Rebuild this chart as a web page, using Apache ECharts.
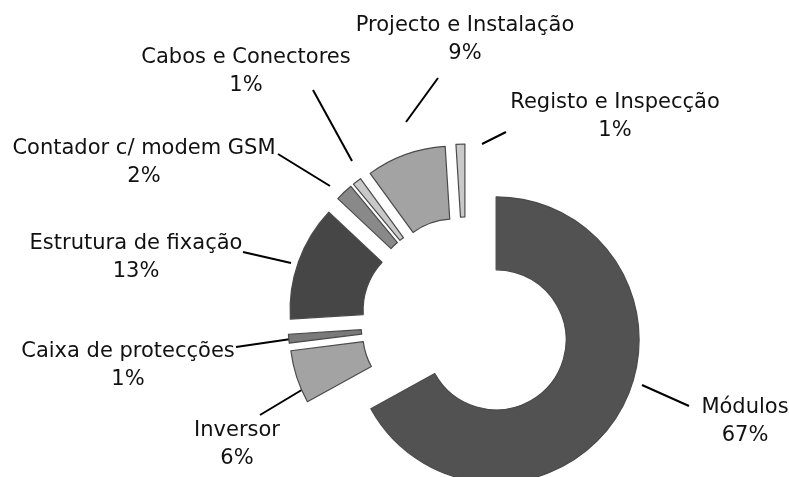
<!DOCTYPE html>
<html>
<head>
<meta charset="utf-8">
<script src="https://cdn.jsdelivr.net/npm/echarts@6/dist/echarts.min.js"></script>
<style>
html,body{margin:0;padding:0;background:#fff;}
#chart{width:789px;height:477px;}
</style>
</head>
<body>
<div id="chart"></div>
<script>
// Data
var categories = ['Módulos', 'Inversor', 'Caixa de protecções', 'Estrutura de fixação', 'Contador c/ modem GSM', 'Cabos e Conectores', 'Projecto e Instalação', 'Registo e Inspecção'];
var shares = [67, 6, 1, 13, 2, 1, 9, 1];

// Styling / layout (not data)
var sliceColors = ['#525252', '#a3a3a3', '#7a7a7a', '#464646', '#898989', '#c9c9c9', '#a3a3a3', '#c9c9c9'];
var labelPos = [[745, 422], [237, 445], [128, 366], [136, 258], [144, 163], [246, 72], [465, 40], [615, 117]];
var leaderLines = [
  [[642, 385], [689, 406]],
  [[305, 388], [260, 415]],
  [[291, 339], [236, 347]],
  [[291, 263], [243, 252]],
  [[330, 186], [278, 154]],
  [[352, 161], [313, 90]],
  [[406, 122], [438, 78]],
  [[482, 144], [506, 132]]
];

var chart = echarts.init(document.getElementById('chart'), null, {renderer: 'canvas'});
var data = categories.map(function (name, i) {
  return {
    name: name,
    value: shares[i],
    selected: true,
    itemStyle: {color: sliceColors[i]}
  };
});

var graphics = [];
categories.forEach(function (name, i) {
  graphics.push({
    type: 'polyline',
    silent: true,
    shape: {points: leaderLines[i]},
    style: {stroke: '#000', lineWidth: 2, fill: null}
  });
  graphics.push({
    type: 'text',
    silent: true,
    style: {
      text: name + '\n' + shares[i] + '%',
      x: labelPos[i][0],
      y: labelPos[i][1],
      align: 'center',
      verticalAlign: 'middle',
      font: '21px "DejaVu Sans"',
      lineHeight: 28,
      fill: '#111'
    }
  });
});

chart.setOption({
  animation: false,
  backgroundColor: '#ffffff',
  graphic: graphics,
  series: [{
    type: 'pie',
    center: [466, 322],
    radius: [70, 143],
    startAngle: 90,
    clockwise: true,
    selectedMode: 'multiple',
    selectedOffset: 35,
    avoidLabelOverlap: false,
    emphasis: {disabled: true},
    itemStyle: {borderColor: '#4a4a4a', borderWidth: 1.2},
    label: {show: false},
    labelLine: {show: false},
    data: data
  }]
});
</script>
</body>
</html>
